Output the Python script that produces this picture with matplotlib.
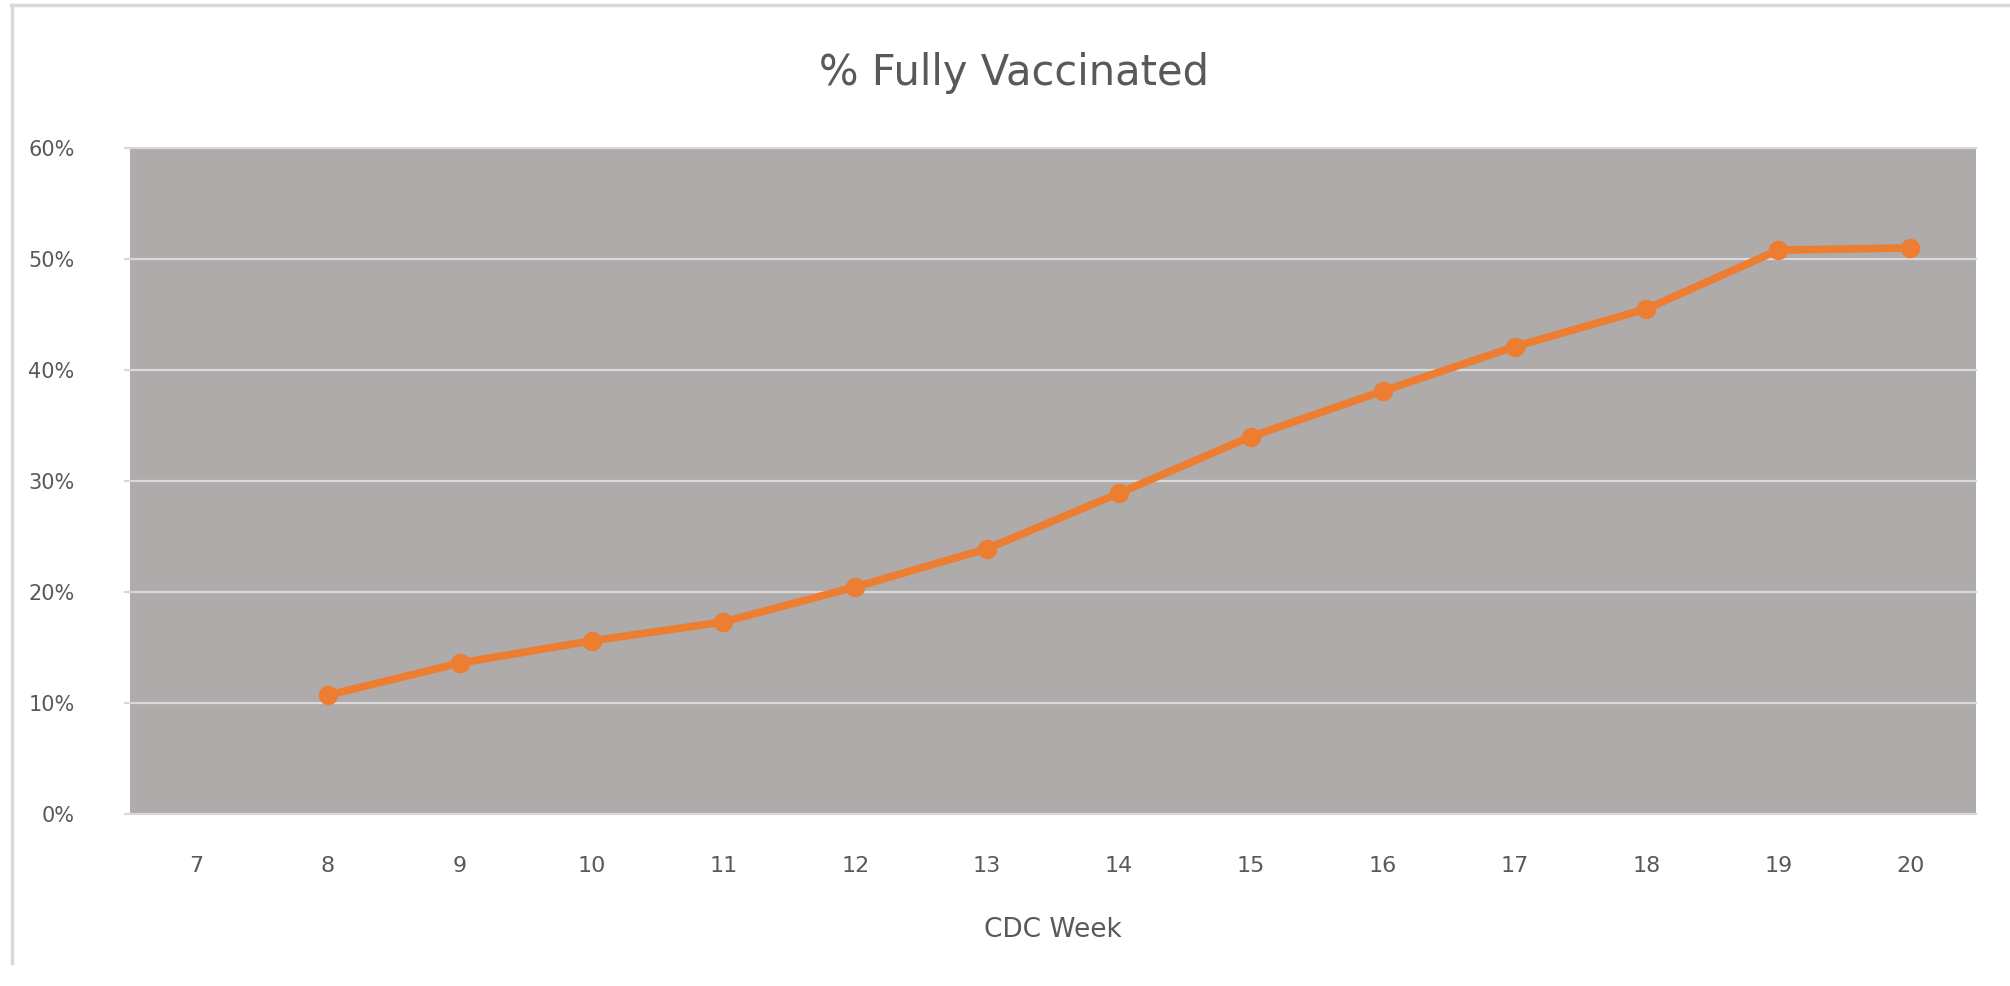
import matplotlib
matplotlib.use("Agg")
import matplotlib.pyplot as plt
from matplotlib.lines import Line2D
from matplotlib.ticker import FuncFormatter

# CDC week categories and % fully vaccinated (week 7 has no value)
weeks = [7, 8, 9, 10, 11, 12, 13, 14, 15, 16, 17, 18, 19, 20]
data_weeks = [8, 9, 10, 11, 12, 13, 14, 15, 16, 17, 18, 19, 20]
pct_vaccinated = [0.107, 0.136, 0.156, 0.173, 0.2045, 0.239, 0.289, 0.340,
                  0.381, 0.421, 0.455, 0.508, 0.510]
y_ticks = [0.0, 0.1, 0.2, 0.3, 0.4, 0.5, 0.6]

title = "% Fully Vaccinated"
x_label = "CDC Week"

text_col = "#595959"
grid_col = "#D9D9D9"
plot_bg = "#AEABAA"
line_col = "#ED7D31"

plt.rcParams["font.family"] = ["DejaVu Sans"]

W, H = 2010, 986
fig = plt.figure(figsize=(W / 100, H / 100), dpi=100)
fig.patch.set_facecolor("white")

# plot area in pixels: left 130, right 1976, top 148, bottom 814
ax = fig.add_axes([130 / W, 1 - 814 / H, (1976 - 130) / W, (814 - 148) / H])
ax.set_facecolor(plot_bg)

ax.plot(data_weeks, pct_vaccinated, color=line_col, linewidth=5.5,
        marker="o", markersize=13, solid_capstyle="round", zorder=3)

ax.set_xlim(6.5, 20.5)
ax.set_ylim(0, 0.6)
ax.set_xticks(weeks)
ax.set_yticks(y_ticks)
ax.yaxis.set_major_formatter(FuncFormatter(lambda v, _: f"{v * 100:.0f}%"))

ax.grid(axis="y", color=grid_col, linewidth=1.6, zorder=1)
for gl in ax.get_ygridlines():
    gl.set_clip_on(False)
ax.set_axisbelow(True)
for s in ax.spines.values():
    s.set_visible(False)

ax.tick_params(axis="x", length=0, pad=30, labelsize=16, labelcolor=text_col)
ax.tick_params(axis="y", length=4, width=1.6, color=grid_col, pad=36,
               labelsize=15, labelcolor=text_col)

ax.set_xlabel(x_label, fontsize=19, color=text_col, labelpad=30)

fig.text(1014 / W, 1 - 73 / H, title, ha="center", va="center",
         fontsize=30, color=text_col)

# chart border remnants (top and left)
fig.add_artist(Line2D([11 / W, 1], [1 - 5 / H, 1 - 5 / H], transform=fig.transFigure,
                      color=grid_col, linewidth=2.5))
fig.add_artist(Line2D([12 / W, 12 / W], [1 - 5 / H, 1 - 963 / H], transform=fig.transFigure,
                      color=grid_col, linewidth=2.5))

fig.savefig("out.png", dpi=100)
